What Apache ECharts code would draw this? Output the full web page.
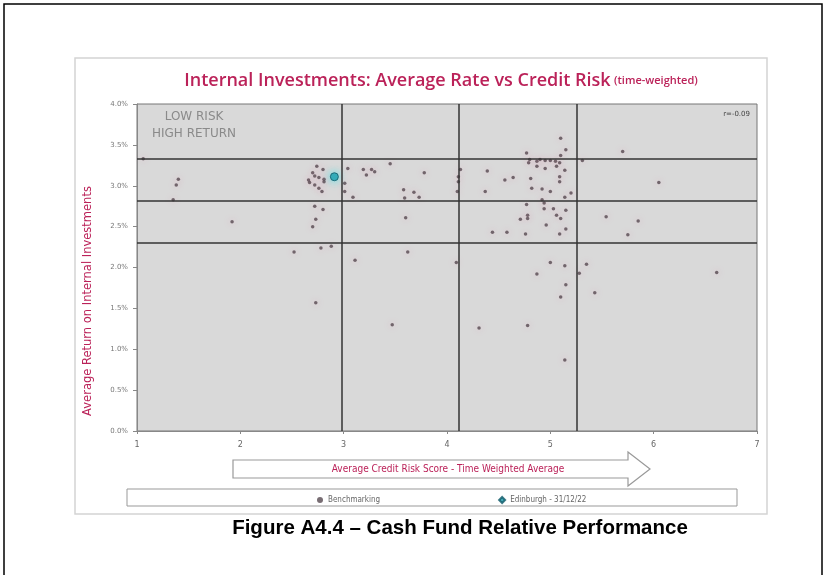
<!DOCTYPE html>
<html><head><meta charset="utf-8">
<script src="https://cdn.jsdelivr.net/npm/echarts@6/dist/echarts.min.js"></script>
<style>html,body{margin:0;padding:0;background:#fff}#c{width:827px;height:575px}</style>
</head><body><div id="c"></div>
<script>
// ---- data ----
const xTicks = [1,2,3,4,5,6,7];
const yTicks = [0,0.5,1,1.5,2,2.5,3,3.5,4];
const benchX = [1.40,1.38,1.35,1.06,1.92,2.74,2.70,2.80,2.66,2.67,2.72,2.81,2.81,2.76,2.79,3.01,3.01,3.04,3.09,3.19,3.22,3.27,3.30,3.45,3.78,3.58,3.68,3.59,3.73,3.60,3.62,2.72,2.80,2.73,2.70,2.52,2.78,2.88,3.11,2.73,3.47,
  5.10,5.15,5.10,4.77,4.79,4.80,4.87,4.90,4.95,5.00,5.05,4.87,4.95,5.09,5.14,5.06,5.09,5.09,4.81,4.82,4.92,5.00,5.20,5.14,4.92,4.94,4.77,4.94,5.03,5.15,5.06,4.78,4.78,4.71,5.10,4.96,5.15,5.09,4.76,4.58,4.44,4.39,4.56,4.64,4.37,4.13,4.11,4.11,4.10,5.70,6.05,5.54,5.85,5.75,5.31,4.09,5.00,5.14,5.35,5.28,4.87,6.61,5.15,5.43,5.10,4.31,4.78,5.14,2.72,2.76];
const benchY = [3.08,3.01,2.83,3.33,2.56,3.24,3.16,3.20,3.07,3.04,3.01,3.08,3.05,2.97,2.93,3.03,2.93,3.21,2.86,3.20,3.13,3.20,3.17,3.27,3.16,2.95,2.92,2.85,2.86,2.61,2.19,2.75,2.71,2.59,2.50,2.19,2.24,2.26,2.09,1.57,1.30,
  3.58,3.44,3.37,3.40,3.28,3.32,3.30,3.32,3.31,3.31,3.30,3.24,3.21,3.28,3.19,3.24,3.11,3.05,3.09,2.97,2.96,2.93,2.91,2.86,2.83,2.79,2.77,2.72,2.72,2.70,2.64,2.64,2.60,2.59,2.60,2.52,2.47,2.41,2.41,2.43,2.43,3.18,3.07,3.10,2.93,3.20,3.11,3.05,2.93,3.42,3.04,2.62,2.57,2.40,3.31,2.06,2.06,2.02,2.04,1.93,1.92,1.94,1.79,1.69,1.64,1.26,1.29,0.87,3.12,3.10];
const edinX = [2.91];
const edinY = [3.11];
const riskLines = [2.98, 4.11, 5.26];
const rateLines = [3.33, 2.82, 2.30];
const seriesNames = ['Benchmarking','Edinburgh - 31/12/22'];
const titleMain = 'Internal Investments: Average Rate vs Credit Risk';
const titleSub = '(time-weighted)';

const crimson = '#bb2259';
const chart = echarts.init(document.getElementById('c'), null, {renderer:'canvas'});
const bench = benchX.map((x,i)=>[x, benchY[i]]);
const edin = edinX.map((x,i)=>[x, edinY[i]]);
const ml = riskLines.map(v=>({xAxis:v})).concat(rateLines.map(v=>({yAxis:v})));

chart.setOption({
  animation:false,
  backgroundColor:'#fff',
  grid:{left:137, right:70, top:104, bottom:144, show:true, backgroundColor:'#d9d9d9', borderColor:'#777', borderWidth:1},
  xAxis:{type:'value', min:xTicks[0], max:xTicks[xTicks.length-1], interval:1,
    axisLine:{show:true, lineStyle:{color:'#888'}}, axisTick:{show:true, length:3, lineStyle:{color:'#888'}},
    splitLine:{show:false},
    axisLabel:{color:'#666', fontSize:8, fontFamily:'DejaVu Sans', margin:10}},
  yAxis:{type:'value', min:yTicks[0], max:yTicks[yTicks.length-1], interval:0.5,
    axisLine:{show:true, lineStyle:{color:'#888'}}, axisTick:{show:true, length:4, lineStyle:{color:'#888'}},
    splitLine:{show:false},
    axisLabel:{color:'#777', fontSize:7, fontFamily:'DejaVu Sans', margin:9, formatter:v=>v.toFixed(1)+'%'}},
  legend:{left:312, top:491, itemGap:118, itemWidth:6, itemHeight:6,
    textStyle:{fontSize:8, color:'#666', fontFamily:'DejaVu Sans Condensed'},
    data:[{name:seriesNames[0], icon:'circle'},{name:seriesNames[1], icon:'diamond'}]},
  series:[
    {name:seriesNames[0], type:'scatter', data:bench, symbolSize:3.5,
      itemStyle:{color:'#564850', shadowBlur:6, shadowColor:'rgba(235,120,160,0.5)'},
      markLine:{silent:true, symbol:'none', label:{show:false}, animation:false,
        lineStyle:{color:'#333', width:1.5, type:'solid'}, data:ml}, z:3},
    {name:seriesNames[1], type:'scatter', data:edin, symbolSize:8,
      itemStyle:{color:'#1b9aaa', borderColor:'#0d5866', borderWidth:1, shadowBlur:8, shadowColor:'rgba(0,230,240,0.8)'}, z:4}
  ],
  graphic:[
    {type:'rect', shape:{x:4, y:4, width:818, height:620}, style:{fill:'none', stroke:'#000', lineWidth:1.5}, z:-10},
    {type:'rect', shape:{x:75, y:58, width:692, height:456}, style:{fill:'none', stroke:'#d4d4d4', lineWidth:1.5}, z:-9},
    {type:'text', x:441, y:81, style:{text:'{m|'+titleMain+'} {s|'+titleSub+'}', textAlign:'center', textVerticalAlign:'middle',
      rich:{m:{fontSize:18, fontWeight:600, fill:crimson, fontFamily:'Open Sans'}, s:{fontSize:11, fontWeight:600, fill:crimson, fontFamily:'Open Sans'}}}},
    {type:'text', x:88, y:301, rotation:Math.PI/2, style:{text:'Average Return on Internal Investments', textAlign:'center', textVerticalAlign:'middle',
      fontSize:11.5, fill:crimson, fontFamily:'DejaVu Sans'}},
    {type:'text', x:194, y:117, style:{text:'LOW RISK', textAlign:'center', textVerticalAlign:'middle', fontSize:12, fill:'#8a8a8a', fontFamily:'DejaVu Sans'}, z:10},
    {type:'text', x:194, y:134, style:{text:'HIGH RETURN', textAlign:'center', textVerticalAlign:'middle', fontSize:12, fill:'#8a8a8a', fontFamily:'DejaVu Sans'}, z:10},
    {type:'text', x:750, y:114, style:{text:'r=-0.09', textAlign:'right', textVerticalAlign:'middle', fontSize:7, fill:'#444', fontFamily:'DejaVu Sans'}, z:10},
    {type:'polygon', shape:{points:[[233,460],[628,460],[628,452],[650,469],[628,486],[628,478],[233,478]]},
      style:{fill:'#fff', stroke:'#999', lineWidth:1.2}},
    {type:'text', x:448, y:469, style:{text:'Average Credit Risk Score - Time Weighted Average', textAlign:'center', textVerticalAlign:'middle', fontSize:10, fill:crimson, fontFamily:'DejaVu Sans Condensed'}},
    {type:'rect', shape:{x:127, y:489, width:610, height:17}, style:{fill:'none', stroke:'#999', lineWidth:1}},
    {type:'text', x:460, y:528, style:{text:'Figure A4.4 \u2013 Cash Fund Relative Performance', textAlign:'center', textVerticalAlign:'middle', fontSize:20.5, fontWeight:'bold', fill:'#000', fontFamily:'Liberation Sans'}}
  ]
});
</script></body></html>
